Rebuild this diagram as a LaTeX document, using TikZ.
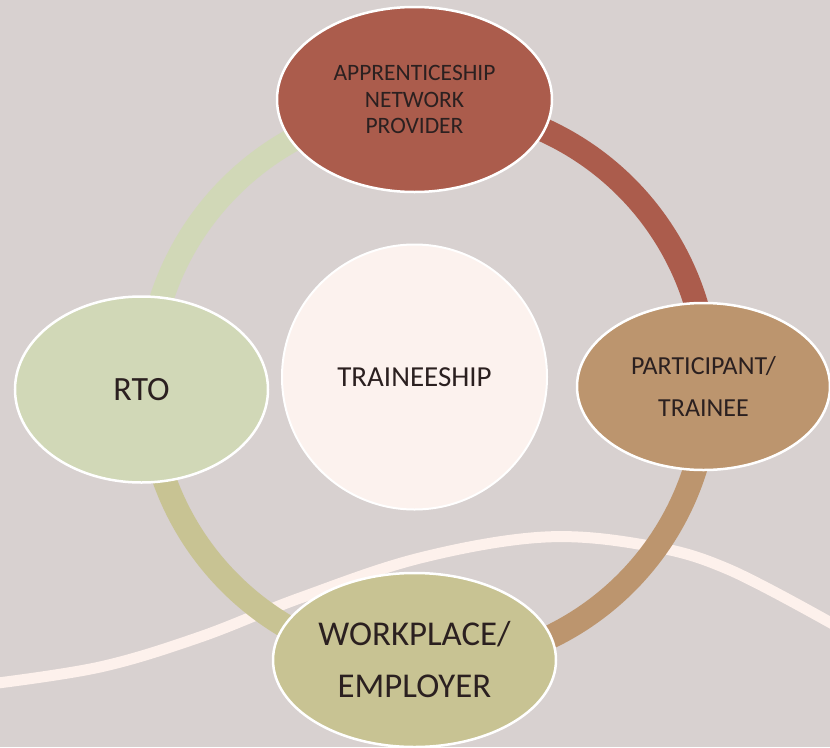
\documentclass[tikz,border=0pt]{standalone}
\usepackage{fontspec}
\setmainfont{Carlito}
\usetikzlibrary{shapes.geometric}
\definecolor{cBg}{HTML}{D8D1D0}
\definecolor{cRust}{HTML}{AB5C4C}
\definecolor{cTan}{HTML}{BC956E}
\definecolor{cOlive}{HTML}{C8C393}
\definecolor{cSage}{HTML}{D1D8B7}
\definecolor{cCream}{HTML}{FCF2EE}
\definecolor{cWave}{HTML}{FDF1EC}
\definecolor{cText}{HTML}{2B2020}
\tikzset{
  ringarc/.style={line width=24pt, line cap=butt},
  oval/.style={ellipse, draw=white, line width=2.5pt, inner sep=0pt, align=center, text=cText},
  hub/.style={circle, draw=white, line width=2pt, fill=cCream, inner sep=0pt, text=cText}
}
\begin{document}
\begin{tikzpicture}[x=1pt,y=-1pt]
\fill[cBg] (0,0) rectangle (830,747);
\useasboundingbox (0,0) rectangle (830,747);
% wave
\draw[cWave, line width=11pt] plot[smooth, tension=0.6] coordinates {(-10,684) (100,667) (200,637) (300,598) (420,558) (545,537) (650,546) (730,570) (840,628)};
% ring
\coordinate (ringc) at (428,385);
\draw[ringarc, cRust] (ringc) ++(-92.8:280) arc[start angle=-92.8, end angle=0, radius=280];
\draw[ringarc, cTan] (ringc) ++(0:280) arc[start angle=0, end angle=92.8, radius=280];
\draw[ringarc, cOlive] (ringc) ++(92.8:280) arc[start angle=92.8, end angle=180, radius=280];
\draw[ringarc, cSage] (ringc) ++(180:280) arc[start angle=180, end angle=267.2, radius=280];
% nodes
\node[hub, minimum size=265pt, font=\fontsize{29}{34}\selectfont] (trainee) at (414.5,377) {TRAINEESHIP};
\node[oval, fill=cRust, minimum width=275pt, minimum height=185pt, font=\fontsize{23.5}{26.5}\selectfont] (anp) at (414.5,99.5) {APPRENTICESHIP\\NETWORK\\PROVIDER};
\node[oval, fill=cTan, minimum width=253pt, minimum height=167pt, font=\fontsize{26}{42.7}\selectfont] (part) at (703.5,386.5) {PARTICIPANT/\\TRAINEE};
\node[oval, fill=cSage, minimum width=253pt, minimum height=186pt, font=\fontsize{34}{40}\selectfont] (rto) at (141.5,389.5) {RTO};
\node[oval, fill=cOlive, minimum width=283pt, minimum height=174pt, font=\fontsize{34.8}{52}\selectfont] (work) at (414.5,660) {WORKPLACE/\\EMPLOYER};
\end{tikzpicture}
\end{document}
